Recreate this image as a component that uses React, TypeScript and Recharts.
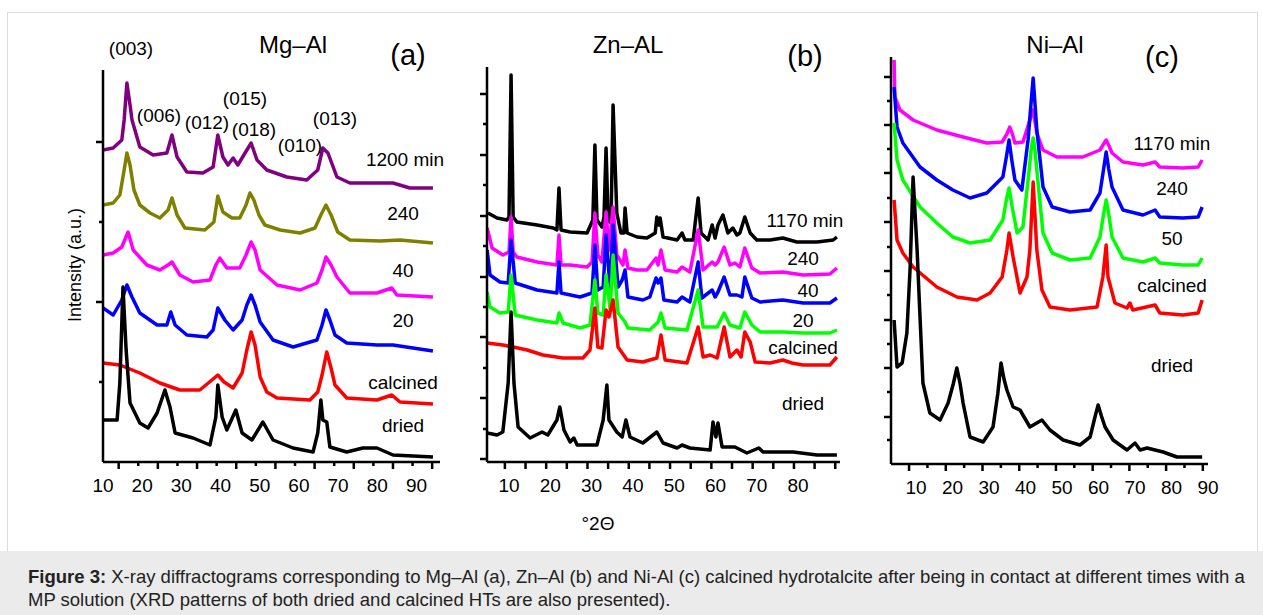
import { LineChart, Line, XAxis, YAxis } from 'recharts'

type Pt = [number, number]

// ---- (a) Mg–Al : [°2θ, intensity a.u.] ----
const mgAl1200: Pt[] = [[10.0,312],[12.6,314],[14.8,322],[15.4,342],[16.1,379],[16.9,357],[17.4,342],[19.4,315],[22.8,307],[26.3,309],[27.6,327],[28.9,305],[31.4,290],[35.5,289],[38.1,295],[39.3,327],[40.6,305],[41.9,297],[43.2,304],[44.4,297],[47.8,319],[49.3,302],[51.8,292],[56.9,285],[62.0,282],[64.8,292],[66.1,314],[67.4,309],[69.7,285],[73.0,279],[79.9,279],[84.0,279],[88.3,274],[94.2,274]]
const mgAl240: Pt[] = [[10.0,257],[12.6,259],[14.3,267],[15.4,292],[16.1,309],[16.9,297],[17.9,272],[19.4,257],[22.0,249],[24.5,244],[26.6,252],[27.6,264],[28.9,247],[30.9,234],[36.0,232],[38.3,240],[39.3,266],[40.6,250],[42.9,244],[44.9,244],[46.5,257],[47.5,269],[48.5,262],[49.8,247],[51.3,237],[55.2,232],[60.3,229],[64.1,234],[65.6,247],[66.9,257],[68.2,247],[69.9,230],[73.0,222],[80.7,221],[85.8,222],[94.2,219]]
const mgAl40: Pt[] = [[10.0,207],[12.6,209],[14.8,215],[16.4,230],[17.7,212],[21.2,197],[24.5,192],[26.6,197],[27.6,200],[29.6,187],[33.0,180],[37.3,182],[38.8,197],[39.8,204],[41.6,194],[44.9,194],[46.5,207],[47.8,220],[48.8,212],[50.1,192],[54.4,177],[60.3,172],[64.6,179],[65.9,192],[66.9,205],[68.2,197],[69.7,185],[73.0,169],[79.9,169],[83.7,174],[85.0,167],[94.2,165]]
const mgAl20: Pt[] = [[10.0,154],[12.6,147],[14.8,162],[16.1,177],[17.4,165],[19.4,149],[23.8,137],[26.3,137],[27.3,150],[28.4,137],[31.4,127],[36.5,125],[38.1,132],[39.3,154],[41.1,142],[43.2,132],[45.5,142],[46.7,157],[47.8,167],[48.8,157],[50.1,140],[53.4,122],[58.5,115],[64.6,122],[65.9,137],[66.9,152],[67.9,142],[69.2,127],[72.2,119],[79.9,117],[84.0,117],[94.2,111]]
const mgAlCalc: Pt[] = [[10.0,99],[14.3,97],[19.4,89],[24.5,79],[29.6,72],[34.7,72],[37.8,82],[39.3,87],[40.9,80],[43.2,74],[45.5,89],[46.7,112],[47.8,130],[48.8,117],[50.1,85],[51.8,70],[54.4,64],[62.8,62],[64.8,70],[65.9,87],[67.1,110],[68.2,94],[69.2,77],[72.2,64],[79.9,62],[83.7,67],[85.8,60],[94.2,58]]
const mgAlDried: Pt[] = [[10.0,42],[13.6,42],[14.3,79],[15.1,175],[15.9,112],[16.9,59],[19.4,39],[21.5,34],[23.8,49],[25.8,72],[27.1,55],[28.4,29],[33.0,24],[37.3,17],[38.8,45],[39.3,77],[40.4,45],[41.6,32],[43.9,52],[45.5,29],[48.0,22],[50.8,40],[53.4,22],[58.5,14],[63.6,10],[64.8,29],[65.6,62],[66.1,42],[67.1,40],[67.9,15],[72.2,10],[76.3,14],[79.9,14],[84.0,7],[94.2,5]]

// ---- (b) Zn–Al ----
const znAl1170: Pt[] = [[4.9,249],[7.1,244],[9.5,242],[10.0,245],[10.5,387],[11.0,245],[11.9,240],[16.8,237],[20.7,234],[21.6,232],[22.1,274],[22.6,232],[24.8,230],[28.9,229],[30.3,242],[30.8,317],[31.3,242],[32.5,235],[33.0,245],[33.5,314],[34.0,242],[34.7,239],[35.2,357],[36.1,249],[37.1,229],[37.8,229],[38.1,254],[38.6,229],[41.0,225],[43.4,224],[45.4,229],[45.8,245],[46.3,237],[46.6,244],[47.3,225],[50.7,222],[51.9,229],[52.6,222],[54.6,222],[55.8,264],[56.5,229],[58.2,222],[59.2,237],[59.9,224],[60.6,237],[61.8,247],[63.0,229],[64.2,234],[65.2,227],[65.9,229],[67.1,245],[68.4,229],[70.0,222],[73.2,222],[76.3,224],[79.7,220],[84.6,220],[88.5,222],[89.4,225]]
const znAl240: Pt[] = [[4.7,234],[5.9,214],[8.5,207],[10.0,210],[10.5,245],[11.0,210],[11.9,205],[16.8,200],[21.6,197],[22.1,227],[22.6,197],[24.8,197],[28.9,195],[30.1,200],[30.8,249],[31.5,207],[32.5,200],[33.5,250],[34.2,212],[35.2,255],[36.1,207],[37.6,197],[38.1,212],[38.8,194],[41.0,192],[43.4,192],[45.6,204],[46.1,197],[46.8,212],[47.8,192],[50.7,190],[51.9,195],[53.8,190],[55.8,232],[57.0,192],[59.2,200],[59.9,197],[60.6,200],[62.1,215],[63.5,197],[64.7,199],[65.9,195],[67.1,214],[68.8,194],[70.8,189],[76.3,190],[81.2,187],[87.7,188],[89.4,194]]
const znAl40: Pt[] = [[4.7,212],[5.4,187],[7.8,180],[9.8,179],[10.5,222],[11.5,179],[16.8,172],[21.6,169],[22.1,200],[22.6,169],[27.2,165],[30.1,169],[30.8,217],[31.5,172],[32.8,175],[33.5,227],[34.5,172],[35.2,237],[36.4,175],[37.4,182],[38.1,192],[38.8,165],[42.4,162],[44.1,165],[45.6,184],[46.1,179],[46.8,184],[47.5,162],[50.7,160],[51.9,165],[53.8,160],[55.8,200],[56.7,164],[59.2,172],[59.9,165],[60.6,170],[62.1,185],[63.5,167],[65.2,167],[66.4,165],[67.1,185],[68.8,164],[70.8,160],[76.3,162],[81.2,159],[87.7,159],[89.4,164]]
const znAl20: Pt[] = [[4.7,170],[5.4,155],[7.8,149],[9.8,150],[10.5,187],[11.5,147],[16.8,142],[21.6,139],[22.1,149],[23.1,139],[27.2,134],[29.6,137],[30.8,182],[31.5,149],[32.8,147],[33.5,187],[34.5,152],[35.2,207],[36.4,149],[38.1,140],[38.8,134],[44.1,132],[46.1,140],[46.8,149],[47.8,134],[53.1,132],[55.8,172],[57.0,135],[60.4,135],[62.1,149],[63.5,137],[65.9,134],[67.1,150],[68.8,137],[70.8,130],[76.3,130],[81.2,129],[87.7,129],[89.4,132]]
const znAlCalc: Pt[] = [[4.7,119],[8.5,117],[11.0,115],[14.4,112],[18.2,107],[23.1,104],[27.9,104],[29.6,112],[30.8,154],[31.5,115],[32.5,114],[33.5,152],[34.2,145],[35.2,162],[36.4,115],[38.6,102],[42.4,100],[45.8,104],[46.8,127],[47.8,102],[53.1,99],[55.8,135],[57.0,105],[58.7,107],[60.4,104],[62.1,135],[63.5,105],[65.2,112],[66.2,105],[67.1,130],[68.4,120],[69.6,100],[73.2,99],[76.3,102],[78.5,99],[81.2,97],[87.7,97],[89.4,105]]
const znAlDried: Pt[] = [[4.7,29],[7.1,27],[8.5,30],[9.8,79],[10.5,150],[11.2,79],[12.2,35],[15.1,24],[18.0,30],[19.4,27],[21.6,42],[22.3,55],[23.3,32],[24.8,20],[25.7,24],[26.5,17],[31.3,17],[32.8,42],[33.7,77],[34.2,42],[36.1,30],[37.4,25],[38.3,42],[39.3,25],[42.4,19],[45.8,30],[47.3,19],[50.7,14],[51.9,17],[53.8,14],[58.7,12],[59.4,40],[60.1,25],[60.6,39],[61.6,15],[64.7,15],[67.6,9],[70.5,14],[71.5,10],[76.3,10],[78.8,10],[84.6,7],[89.4,7]]

// ---- (c) Ni–Al ----
const niAl1170: Pt[] = [[5.1,404],[5.3,367],[6.7,354],[10.3,344],[16.8,334],[24.0,327],[30.5,321],[34.7,322],[36.0,330],[36.8,337],[37.5,330],[38.2,321],[40.4,322],[42.3,344],[43.2,354],[44.2,331],[45.9,314],[49.7,307],[56.8,307],[61.5,314],[62.5,320],[63.2,324],[64.0,318],[64.8,311],[67.8,302],[73.3,299],[76.6,302],[77.9,297],[84.2,296],[88.4,297],[89.5,304]]
const niAl240: Pt[] = [[5.1,377],[5.9,337],[7.5,321],[12.2,297],[16.8,284],[21.2,274],[25.9,266],[30.5,271],[34.9,287],[35.9,308],[36.6,324],[37.3,305],[38.2,284],[40.1,274],[41.8,324],[42.6,360],[43.2,386],[43.8,355],[44.2,334],[45.9,277],[48.4,257],[53.3,252],[58.8,254],[61.5,271],[62.5,295],[63.2,312],[63.9,295],[64.8,277],[67.8,254],[73.3,249],[76.6,254],[77.9,247],[84.2,246],[88.4,247],[89.5,257]]
const niAl50: Pt[] = [[5.1,341],[5.9,304],[7.5,284],[12.2,257],[16.8,241],[21.2,227],[25.9,221],[31.4,224],[34.9,244],[35.9,265],[36.6,276],[37.4,258],[38.8,231],[40.4,237],[42.1,294],[42.7,316],[43.2,326],[43.7,314],[44.2,294],[45.9,231],[48.4,211],[53.3,204],[58.8,206],[61.5,227],[62.5,250],[63.2,264],[63.9,250],[64.8,227],[67.8,206],[73.3,202],[76.6,206],[77.9,201],[84.2,199],[88.4,199],[89.5,206]]
const niAlCalc: Pt[] = [[5.1,264],[5.9,224],[7.5,211],[10.3,197],[16.8,177],[22.3,167],[27.8,164],[31.4,171],[34.7,187],[36.0,214],[36.6,231],[37.7,207],[39.6,171],[41.5,187],[42.3,214],[43.2,282],[44.2,214],[45.6,174],[47.8,157],[53.3,154],[60.7,157],[62.3,187],[63.2,219],[63.7,187],[65.6,161],[68.9,156],[69.7,161],[70.5,154],[76.6,159],[77.9,151],[84.2,149],[88.4,151],[89.5,164]]
const niAlDried: Pt[] = [[5.1,144],[5.9,97],[7.3,101],[8.6,131],[9.5,197],[10.3,287],[11.4,214],[12.2,147],[13.0,81],[14.9,51],[17.7,44],[19.9,61],[21.3,80],[22.3,96],[23.2,80],[24.0,61],[25.9,27],[29.5,22],[32.2,37],[33.5,70],[34.4,101],[35.2,85],[36.0,74],[37.7,57],[39.6,54],[42.3,37],[45.6,44],[47.8,34],[51.4,24],[56.0,19],[58.8,27],[60.2,48],[61.0,59],[61.9,48],[62.9,37],[65.1,24],[68.9,14],[71.1,21],[72.5,14],[74.4,16],[78.8,12],[82.6,7],[89.5,7]]

// ---- ticks ----
const xLabels = [10, 20, 30, 40, 50, 60, 70, 80, 90]
const xLabelsB = [10, 20, 30, 40, 50, 60, 70, 80]
const xMarksA = [14, 19, 24, 29, 34, 39, 44, 49, 54, 59, 64, 69, 74, 79, 84, 89, 94]
const xMajorA = [14, 24, 34, 44, 54, 64, 74, 84, 94]
const xMarksB = [9, 14, 19, 24, 29, 34, 39, 44, 49, 54, 59, 64, 69, 74, 79, 84, 89]
const xMarksC = [9.2, 14.23, 19.26, 24.29, 29.32, 34.35, 39.38, 44.41, 49.44, 54.47, 59.5, 64.53, 69.56, 74.59, 79.62, 84.65, 89.68]
const xMajorC = [9.2, 19.26, 29.32, 39.38, 49.44, 59.5, 69.56, 79.62, 89.68]
const yMarksA = [80, 160, 240, 320]
const yMajorA = [160, 320]
const yMarksB = [3, 33, 64, 94, 125, 155, 185, 216, 246, 277, 307, 338, 368]
const yMajorB = [3, 64, 125, 185, 246, 307, 368]
const yMajorC = [47, 96, 144, 193, 242, 291, 339, 387]
const yMarksC = [24, 47, 72, 96, 120, 144, 169, 193, 217, 242, 266, 291, 315, 339, 363, 387]

const FONT = "'Liberation Sans', Arial, sans-serif"

interface Series { pts: Pt[]; color: string }

interface PanelProps {
  left: number
  top: number
  width: number
  height: number
  margin: { top: number; right: number; bottom: number; left: number }
  xDomain: [number, number]
  yDomain: [number, number]
  xLabels: number[]
  xMarks: number[]
  xMajor: number[]
  yMarks: number[]
  yMajor: number[]
  labelDx: number
  series: Series[]
}

function Panel(p: PanelProps) {
  const xTicks = [...p.xLabels, ...p.xMarks].sort((a, b) => a - b)

  const xTick = (props: any) => {
    const { x, y, payload } = props
    const v = payload.value
    if (p.xLabels.includes(v)) {
      return (
        <text x={x + p.labelDx} y={y + 30} textAnchor="middle" fontSize={19} fontFamily={FONT} fill="#000">
          {v}
        </text>
      )
    }
    const len = p.xMajor.includes(v) ? 7 : 4
    return <line x1={x} x2={x} y1={y} y2={y + len} stroke="#000" strokeWidth={2.5} />
  }

  const yTick = (props: any) => {
    const { x, y, payload } = props
    const len = p.yMajor.includes(payload.value) ? 7 : 4
    return <line x1={x - len} x2={x} y1={y} y2={y} stroke="#000" strokeWidth={2.5} />
  }

  return (
    <div style={{ position: 'absolute', left: p.left, top: p.top }}>
      <LineChart width={p.width} height={p.height} margin={p.margin}>
        <XAxis
          type="number"
          dataKey="x"
          domain={p.xDomain}
          allowDataOverflow
          ticks={xTicks}
          interval={0}
          tickSize={0}
          tickMargin={0}
          tickLine={false}
          axisLine={{ stroke: '#000', strokeWidth: 2.5 }}
          tick={xTick}
          height={30}
        />
        <YAxis
          type="number"
          domain={p.yDomain}
          allowDataOverflow
          ticks={p.yMarks}
          interval={0}
          tickSize={0}
          tickMargin={0}
          tickLine={false}
          axisLine={{ stroke: '#000', strokeWidth: 2.5 }}
          tick={yTick}
          width={10}
        />
        {p.series.map((s, i) => (
          <Line
            key={i}
            data={s.pts.map(([x, y]) => ({ x, y }))}
            dataKey="y"
            type="linear"
            stroke={s.color}
            strokeWidth={3.5}
            strokeLinejoin="round"
            dot={false}
            isAnimationActive={false}
          />
        ))}
      </LineChart>
    </div>
  )
}

function Txt({ x, y, size = 19, children }: { x: number; y: number; size?: number; children: React.ReactNode }) {
  return (
    <div
      style={{
        position: 'absolute',
        left: x,
        top: y,
        transform: 'translate(-50%, -50%)',
        fontSize: size,
        lineHeight: 1,
        fontFamily: FONT,
        color: '#000',
        whiteSpace: 'nowrap',
      }}
    >
      {children}
    </div>
  )
}

export default function App() {
  return (
    <div style={{ position: 'absolute', left: 0, top: 0, width: 1263, height: 615, background: '#fff', overflow: 'hidden' }}>
      {/* figure frame */}
      <div style={{ position: 'absolute', left: 7, top: 12, width: 1249, height: 539, border: '1px solid #dcdcdc', borderBottom: 'none' }} />

      <Panel
        left={60} top={20} width={400} height={500}
        margin={{ top: 50, right: 20, bottom: 28, left: 33 }}
        xDomain={[10, 96]} yDomain={[0, 392]}
        xLabels={xLabels} xMarks={xMarksA} xMajor={xMajorA}
        yMarks={yMarksA} yMajor={yMajorA} labelDx={0}
        series={[
          { pts: mgAl1200, color: '#800080' },
          { pts: mgAl240, color: '#808000' },
          { pts: mgAl40, color: '#ff00ff' },
          { pts: mgAl20, color: '#0000ff' },
          { pts: mgAlCalc, color: '#ff0000' },
          { pts: mgAlDried, color: '#000000' },
        ]}
      />
      <Panel
        left={460} top={20} width={400} height={500}
        margin={{ top: 47, right: 20, bottom: 28, left: 17 }}
        xDomain={[4.67, 90.15]} yDomain={[0, 395]}
        xLabels={xLabelsB} xMarks={xMarksB} xMajor={xMarksB}
        yMarks={yMarksB} yMajor={yMajorB} labelDx={0}
        series={[
          { pts: znAl1170, color: '#000000' },
          { pts: znAl240, color: '#ff00ff' },
          { pts: znAl40, color: '#0000ff' },
          { pts: znAl20, color: '#00ff00' },
          { pts: znAlCalc, color: '#ff0000' },
          { pts: znAlDried, color: '#000000' },
        ]}
      />
      <Panel
        left={860} top={20} width={370} height={500}
        margin={{ top: 37, right: 22, bottom: 26, left: 21 }}
        xDomain={[4.25, 91.1]} yDomain={[0, 407]}
        xLabels={xLabels} xMarks={xMarksC} xMajor={xMajorC}
        yMarks={yMarksC} yMajor={yMajorC} labelDx={4}
        series={[
          { pts: niAl1170, color: '#ff00ff' },
          { pts: niAl240, color: '#0000ff' },
          { pts: niAl50, color: '#00ff00' },
          { pts: niAlCalc, color: '#ff0000' },
          { pts: niAlDried, color: '#000000' },
        ]}
      />

      {/* panel (a) annotations */}
      <Txt x={131} y={48}>(003)</Txt>
      <Txt x={293} y={45} size={24}>Mg–Al</Txt>
      <Txt x={408} y={55} size={29}>(a)</Txt>
      <Txt x={159} y={115}>(006)</Txt>
      <Txt x={207} y={122}>(012)</Txt>
      <Txt x={245} y={98}>(015)</Txt>
      <Txt x={254} y={129}>(018)</Txt>
      <Txt x={300} y={145}>(010)</Txt>
      <Txt x={335} y={118}>(013)</Txt>
      <Txt x={405} y={159}>1200 min</Txt>
      <Txt x={403} y={213}>240</Txt>
      <Txt x={403} y={270}>40</Txt>
      <Txt x={403} y={320}>20</Txt>
      <Txt x={403} y={382}>calcined</Txt>
      <Txt x={403} y={425}>dried</Txt>
      <div
        style={{
          position: 'absolute', left: 75, top: 265, transform: 'translate(-50%, -50%) rotate(-90deg)',
          fontSize: 18, lineHeight: 1, fontFamily: FONT, whiteSpace: 'nowrap', color: '#000',
        }}
      >
        Intensity (a.u.)
      </div>

      {/* panel (b) annotations */}
      <Txt x={628} y={45} size={24}>Zn–AL</Txt>
      <Txt x={805} y={56} size={29}>(b)</Txt>
      <Txt x={805} y={220}>1170 min</Txt>
      <Txt x={803} y={258}>240</Txt>
      <Txt x={808} y={290}>40</Txt>
      <Txt x={803} y={320}>20</Txt>
      <Txt x={803} y={347}>calcined</Txt>
      <Txt x={803} y={403}>dried</Txt>
      <Txt x={598} y={523}>°2Θ</Txt>

      {/* panel (c) annotations */}
      <Txt x={1055} y={45} size={24}>Ni–Al</Txt>
      <Txt x={1162} y={57} size={29}>(c)</Txt>
      <Txt x={1172} y={143}>1170 min</Txt>
      <Txt x={1172} y={188}>240</Txt>
      <Txt x={1172} y={238}>50</Txt>
      <Txt x={1172} y={285}>calcined</Txt>
      <Txt x={1172} y={365}>dried</Txt>

      {/* caption */}
      <div style={{ position: 'absolute', left: 0, top: 551, width: 1263, height: 64, background: '#ebebeb' }}>
        <div style={{ position: 'absolute', left: 28, top: 14, fontSize: 18.5, lineHeight: '23px', fontFamily: FONT, color: '#222', whiteSpace: 'nowrap' }}>
          <b>Figure 3:</b> X-ray diffractograms corresponding to Mg–Al (a), Zn–Al (b) and Ni-Al (c) calcined hydrotalcite after being in contact at different times with a
          <br />
          MP solution (XRD patterns of both dried and calcined HTs are also presented).
        </div>
      </div>
    </div>
  )
}
